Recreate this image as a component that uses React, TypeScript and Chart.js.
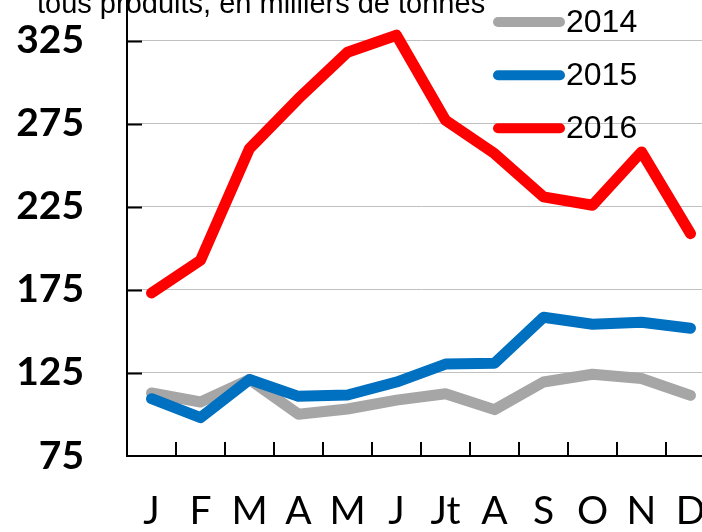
import React, { useEffect, useRef } from 'react';
import { Chart, registerables } from 'chart.js';
Chart.register(...registerables);

const months = ['J', 'F', 'M', 'A', 'M', 'J', 'Jt', 'A', 'S', 'O', 'N', 'D'];
const series2014 = [112.9, 107.5, 121, 100.1, 103.3, 108.6, 112.5, 102.9, 119.5, 124.2, 121.6, 111.5];
const series2015 = [109.5, 98.1, 121, 110.9, 111.7, 119.5, 130.3, 130.8, 158.5, 154.3, 155.5, 151.9];
const series2016 = [173.1, 192.8, 260, 290.1, 318, 328.2, 277, 257, 230.9, 225.9, 258, 208.8];
const seriesLabels = ['2014', '2015', '2016'];
const yTicks = [75, 125, 175, 225, 275, 325];
const yMin = 75;
const yMax = 350;
const title = 'tous produits, en milliers de tonnes';

const colors = ['#a6a6a6', '#0070c0', '#ff0000'];

// Canvas is larger than the window and shifted so the plot runs off the top and right edges
const SHIFT = 81.3;
const PAD_TOP = SHIFT - 1.3;
const PLOT_BOTTOM = 455.7 + SHIFT;
const PAD_RIGHT = 40;
const CW = 715 + PAD_RIGHT;
const CH = 650;

const innerTicks = {
  id: 'innerTicks',
  beforeDatasetsDraw(chart: any) {
    const { ctx, scales } = chart;
    const x = scales.x;
    const y = scales.y;
    ctx.save();
    ctx.strokeStyle = '#000';
    ctx.lineWidth = 2;
    ctx.beginPath();
    yTicks.forEach((v) => {
      if (v === yMin) return;
      const py = Math.round(y.getPixelForValue(v)) + 0.5;
      ctx.moveTo(x.left, py);
      ctx.lineTo(x.left + 15, py);
    });
    for (let k = 1; k <= months.length; k++) {
      const px = Math.round(x.getPixelForValue(k - 0.5));
      ctx.moveTo(px, y.bottom);
      ctx.lineTo(px, y.bottom - 14);
    }
    ctx.stroke();
    ctx.restore();
  },
};

const overlay = {
  id: 'overlay',
  afterDraw(chart: any) {
    const { ctx } = chart;
    ctx.save();
    // cut-off title
    ctx.fillStyle = '#000';
    ctx.font = '29px "Liberation Sans", Arial, sans-serif';
    ctx.textBaseline = 'alphabetic';
    ctx.textAlign = 'left';
    ctx.fillText(title, 37, 12.5 + SHIFT);
    // legend
    const rows = [21.7, 75, 128];
    chart.data.datasets.forEach((ds: any, i: number) => {
      const yy = rows[i] + SHIFT;
      ctx.strokeStyle = ds.borderColor;
      ctx.lineWidth = 10;
      ctx.lineCap = 'round';
      ctx.beginPath();
      ctx.moveTo(498, yy);
      ctx.lineTo(560, yy);
      ctx.stroke();
      ctx.fillStyle = '#000';
      ctx.font = '32px "Liberation Sans", Arial, sans-serif';
      ctx.textBaseline = 'middle';
      ctx.fillText(ds.label, 566, yy + 1);
    });
    ctx.restore();
  },
};

export default function App() {
  const ref = useRef<HTMLCanvasElement | null>(null);
  useEffect(() => {
    if (!ref.current) return;
    const mk = (label: string, data: number[], color: string, order: number) => ({
      label,
      data,
      borderColor: color,
      backgroundColor: color,
      borderWidth: 11,
      borderJoinStyle: 'round' as const,
      borderCapStyle: 'round' as const,
      pointRadius: 0,
      tension: 0,
      order,
    });
    const chart = new Chart(ref.current, {
      type: 'line',
      data: {
        labels: months,
        datasets: [
          mk(seriesLabels[0], series2014, colors[0], 3),
          mk(seriesLabels[1], series2015, colors[1], 2),
          mk(seriesLabels[2], series2016, colors[2], 1),
        ],
      },
      options: {
        animation: false,
        responsive: false,
        devicePixelRatio: 1,
        layout: { padding: { top: PAD_TOP, right: PAD_RIGHT, left: 0, bottom: 0 } },
        plugins: { legend: { display: false }, tooltip: { enabled: false } },
        scales: {
          x: {
            type: 'category',
            offset: true,
            grid: { display: false, drawTicks: false },
            border: { display: true, color: '#000', width: 2 },
            ticks: {
              color: '#000',
              font: { family: 'Lato, "Open Sans", sans-serif', size: 39 },
              padding: 32,
              maxRotation: 0,
              autoSkip: false,
            },
            afterFit: (s: any) => {
              s.height = CH - PLOT_BOTTOM;
            },
          },
          y: {
            min: yMin,
            max: yMax,
            grid: { color: '#c0c0c0', lineWidth: 1, drawTicks: false },
            border: { display: true, color: '#000', width: 2 },
            afterBuildTicks: (s: any) => {
              s.ticks = yTicks.map((v) => ({ value: v }));
            },
            ticks: {
              color: '#000',
              font: { family: 'Lato, "Open Sans", sans-serif', size: 39, weight: 'bold' },
              padding: 43,
            },
            afterFit: (s: any) => {
              s.width = 127;
            },
          },
        },
      },
      plugins: [innerTicks, overlay],
    });
    return () => chart.destroy();
  }, []);
  return (
    <div style={{ position: 'fixed', left: 0, top: 0, width: 702, height: 532, overflow: 'hidden', background: '#fff' }}>
      <canvas ref={ref} width={CW} height={CH} style={{ position: 'absolute', left: 0, top: -SHIFT, width: CW, height: CH }} />
    </div>
  );
}
